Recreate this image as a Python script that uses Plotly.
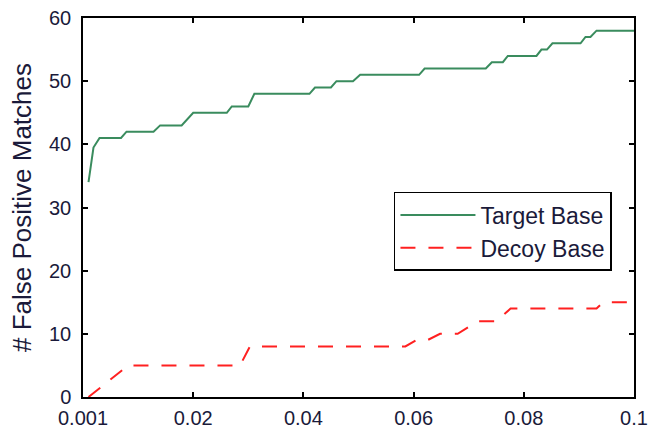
import plotly.graph_objects as go

# False-positive match counts vs. threshold
target_x = [0.001, 0.0019, 0.003, 0.0069, 0.0079, 0.0128, 0.014, 0.0179, 0.020,
            0.0261, 0.027, 0.030, 0.0311, 0.0411, 0.0421, 0.045, 0.046, 0.049,
            0.0503, 0.061, 0.062, 0.0731, 0.0742, 0.0762, 0.0771, 0.0823, 0.0832,
            0.0842, 0.0852, 0.0903, 0.0912, 0.0921, 0.0932, 0.1]
target_y = [34, 39.5, 41, 41, 42, 42, 43, 43, 45,
            45, 46, 46, 48, 48, 49, 49, 50, 50,
            51, 51, 52, 52, 53, 53, 54, 54, 55,
            55, 56, 56, 57, 57, 58, 58]

decoy_x = [0.001, 0.0082, 0.0285, 0.0303, 0.0585, 0.0605, 0.0625, 0.0648,
           0.068, 0.0716, 0.0750, 0.0776, 0.0932, 0.0944, 0.1]
decoy_y = [0, 5, 5, 8, 8, 9, 9, 10, 10, 12, 12, 14, 14, 15, 15]

x_tick_vals = [0, 0.02, 0.04, 0.06, 0.08, 0.1]
x_tick_text = ["0.001", "0.02", "0.04", "0.06", "0.08", "0.1"]
y_tick_vals = [0, 10, 20, 30, 40, 50, 60]

font_family = "Liberation Sans, Arial, sans-serif"
text_color = "#1a1a3a"

fig = go.Figure()
fig.add_trace(go.Scatter(
    x=target_x, y=target_y, mode="lines", name="Target Base",
    line=dict(color="#3a8c5e", width=2),
))
fig.add_trace(go.Scatter(
    x=decoy_x, y=decoy_y, mode="lines", name="Decoy Base",
    line=dict(color="#ff2020", width=2, dash="15px,13px"),
))

axis_common = dict(
    showline=True, linecolor="black", linewidth=1.5, mirror="ticks",
    ticks="inside", ticklen=5, tickwidth=1.5, tickcolor="black",
    showgrid=False, zeroline=False, automargin=False,
    tickfont=dict(family=font_family, size=20, color=text_color),
)

fig.update_layout(
    width=648, height=433,
    margin=dict(l=83, r=14, t=18, b=36),
    paper_bgcolor="white", plot_bgcolor="white",
    font=dict(family=font_family, color="black"),
    xaxis=dict(range=[0, 0.1], tickvals=x_tick_vals, ticktext=x_tick_text,
               ticklabelstandoff=2, **axis_common),
    yaxis=dict(range=[0, 60], tickvals=y_tick_vals, ticklabelstandoff=6,
               title=dict(text="# False Positive Matches",
                          font=dict(family=font_family, size=26, color=text_color),
                          standoff=10),
               **axis_common),
    legend=dict(
        x=0.96, y=0.541, xanchor="right", yanchor="top",
        bgcolor="white", bordercolor="black", borderwidth=1.5,
        font=dict(family=font_family, size=23, color=text_color),
        itemwidth=75, tracegroupgap=0,
    ),
    showlegend=True,
)

fig.write_html("out.html")
